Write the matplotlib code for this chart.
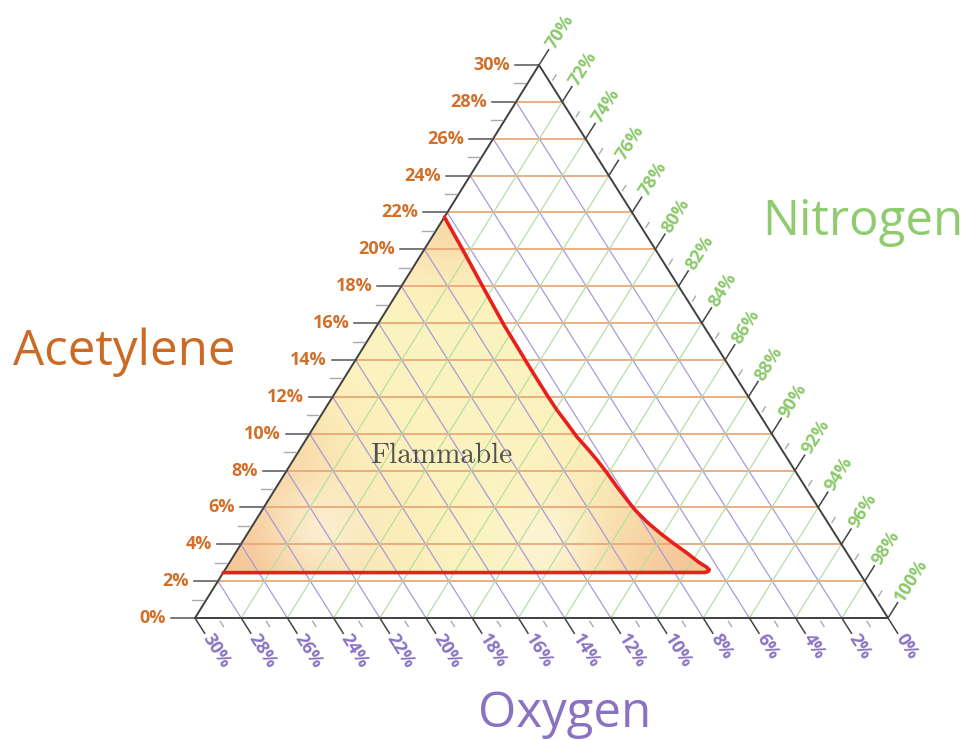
import numpy as np
import matplotlib
matplotlib.use('Agg')
import matplotlib.pyplot as plt
from matplotlib.patches import Polygon

# --- data (percent) ---
acetylene_ticks = list(range(0, 31, 2))
oxygen_ticks = list(range(0, 31, 2))
nitrogen_ticks = list(range(70, 101, 2))

# flammability boundary: acetylene %, oxygen %
bound_acetylene = [21.75, 19.96, 17.96, 15.89, 13.83, 12.75, 11.99, 11.28, 10.58, 9.82,
                   9.22, 8.57, 7.87, 7.11, 6.40, 5.86, 5.21, 4.61, 4.07, 3.53,
                   3.04, 2.77, 2.62, 2.53, 2.47, 2.46]
bound_oxygen = [8.25, 8.35, 8.49, 8.62, 8.66, 8.67, 8.67, 8.65, 8.58, 8.52,
                8.39, 8.28, 8.20, 8.15, 8.07, 8.00, 7.81, 7.55, 7.26, 6.93,
                6.68, 6.47, 6.42, 6.50, 6.68, 27.54]

# --- triangle geometry in pixel space ---
BL = np.array([195.0, 618.0])
BR = np.array([888.0, 618.0])
TOP = np.array([539.0, 65.0])

ORANGE = '#d0702a'
GREEN = '#8cc96c'
PURPLE = '#8a74c2'


def tern(a, o):
    a = np.asarray(a, float)
    o = np.asarray(o, float)
    w = a / 30.0
    u = o / 30.0
    v = 1 - u - w
    x = BL[0] * u + BR[0] * v + TOP[0] * w
    y = BL[1] * u + BR[1] * v + TOP[1] * w
    return x, y


fig = plt.figure(figsize=(9.65, 7.40), dpi=100)
ax = fig.add_axes([0, 0, 1, 1])
ax.set_xlim(0, 965)
ax.set_ylim(740, 0)
ax.axis('off')

# --- gradient fill of the flammable region ---
bx, by = tern(bound_acetylene, bound_oxygen)
poly = Polygon(np.column_stack([bx, by]), closed=True, facecolor='none', edgecolor='none')
ax.add_patch(poly)

gx, gy = np.meshgrid(np.arange(200, 720), np.arange(200, 590))
yellow = np.array([252, 244, 192]) / 255
orange = np.array([246, 198, 152]) / 255
white = np.array([253, 248, 228]) / 255
t = np.zeros_like(gx, dtype=float)
for (cx, cy, s, k) in [(215, 575, 140, 1.0), (705, 572, 120, 1.0), (444, 216, 60, 0.6),
                       (265, 470, 80, 0.7)]:
    t = np.maximum(t, k * np.exp(-((gx - cx) ** 2 + (gy - cy) ** 2) / s ** 2))
wt = np.zeros_like(t)
for (cx, cy, s) in [(545, 540, 45), (320, 530, 45)]:
    wt = np.maximum(wt, np.exp(-((gx - cx) ** 2 + (gy - cy) ** 2) / s ** 2))
img = yellow[None, None, :] * (1 - t[..., None]) + orange[None, None, :] * t[..., None]
img = img * (1 - 0.6 * wt[..., None]) + white[None, None, :] * 0.6 * wt[..., None]
im = ax.imshow(img, extent=(200, 720, 590, 200), origin='upper', zorder=1,
               interpolation='bilinear')
im.set_clip_path(poly)

# --- grid lines ---
for a in acetylene_ticks[1:-1]:
    x, y = tern([a, a], [30 - a, 0])
    ax.plot(x, y, color='#eba878', lw=1.3, zorder=2)
for o in oxygen_ticks[1:-1]:
    x, y = tern([0, 30 - o], [o, o])
    ax.plot(x, y, color='#a99ad8', lw=0.9, zorder=2)
for n in nitrogen_ticks[1:-1]:
    x, y = tern([0, 100 - n], [100 - n, 0])
    ax.plot(x, y, color='#b8dea2', lw=0.9, zorder=2)

# --- triangle outline ---
tri = np.array([BL, BR, TOP, BL])
ax.plot(tri[:, 0], tri[:, 1], color='#404040', lw=1.4, zorder=3)

# --- red boundary ---
ax.plot(bx, by, color='#e8201c', lw=2.6, zorder=4, solid_joinstyle='round',
        solid_capstyle='round')

# --- ticks and labels ---
dir_left = np.array([-1.0, 0.0])
d = np.array([349.0, 553.0])
dir_bottom = d / np.hypot(*d)
dir_right = np.array([dir_bottom[0], -dir_bottom[1]])
ang = np.degrees(np.arctan2(553, 349))
lab_font = dict(family=['Open Sans', 'DejaVu Sans'], fontsize=13, fontweight='bold')

for a in range(0, 31):
    x, y = tern(a, 30 - a)
    p = np.array([float(x), float(y)])
    if a % 2 == 0:
        e = p + 24 * dir_left
        ax.plot([p[0], e[0]], [p[1], e[1]], color='#555555', lw=1.1, zorder=3)
        ax.text(p[0] - 29, p[1], '%d%%' % a, color=ORANGE, ha='right', va='center', **lab_font)
    else:
        s, e = p + 3 * dir_left, p + 14 * dir_left
        ax.plot([s[0], e[0]], [s[1], e[1]], color='#aaaaaa', lw=1.0, zorder=3)

for o in range(0, 31):
    x, y = tern(0, o)
    p = np.array([float(x), float(y)])
    if o % 2 == 0:
        e = p + 18 * dir_bottom
        ax.plot([p[0], e[0]], [p[1], e[1]], color='#444444', lw=1.1, zorder=3)
        q = p + 21 * dir_bottom
        ax.text(q[0], q[1], '%d%%' % o, color=PURPLE, rotation=-ang, rotation_mode='anchor',
                ha='left', va='center', **lab_font)
    else:
        s, e = p + 4 * dir_bottom, p + 10 * dir_bottom
        ax.plot([s[0], e[0]], [s[1], e[1]], color='#aaaaaa', lw=1.0, zorder=3)

for n in range(70, 101):
    x, y = tern(100 - n, 0)
    p = np.array([float(x), float(y)])
    if n % 2 == 0:
        e = p + 18 * dir_right
        ax.plot([p[0], e[0]], [p[1], e[1]], color='#444444', lw=1.1, zorder=3)
        q = p + 21 * dir_right
        ax.text(q[0], q[1], '%d%%' % n, color=GREEN, rotation=ang, rotation_mode='anchor',
                ha='left', va='center', **lab_font)
    else:
        s, e = p + 4 * dir_right, p + 10 * dir_right
        ax.plot([s[0], e[0]], [s[1], e[1]], color='#aaaaaa', lw=1.0, zorder=3)

# --- axis titles ---
title_font = dict(family=['Open Sans', 'DejaVu Sans'], fontsize=35.5)
ax.text(124, 352, 'Acetylene', color='#cc6a24', ha='center', va='center', **title_font)
ax.text(863, 222, 'Nitrogen', color='#8fcc70', ha='center', va='center', **title_font)
ax.text(565, 714, 'Oxygen', color='#8a72c2', ha='center', va='center', **title_font)

ax.text(441, 456, 'Flammable', color='#505050', ha='center', va='center',
        family=['cmr10', 'DejaVu Serif'], fontsize=21)

fig.savefig('out.png', dpi=100)
